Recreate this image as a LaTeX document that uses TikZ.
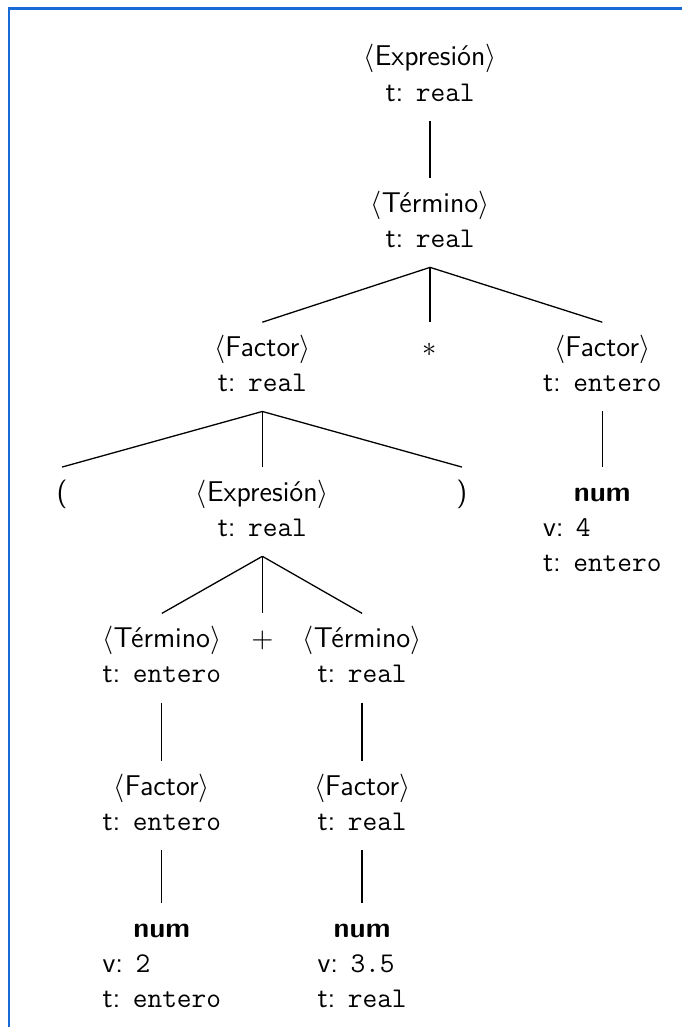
\documentclass[tikz,border=0pt]{standalone}
\usepackage{tikz}

\definecolor{framecol}{RGB}{25,105,215}
\newcommand{\nt}[2]{\strut$\langle$#1$\rangle$\\\strut t: \texttt{#2}}
\newcommand{\numleaf}[2]{\begin{tabular}{@{}l@{}}\multicolumn{1}{@{}c@{}}{\textbf{num}}\\ v: \texttt{#1}\\ t: \texttt{#2}\end{tabular}}

\begin{document}
\begin{tikzpicture}[line width=0.5pt,every node/.style={font=\fontsize{11}{13.6}\selectfont\sffamily,align=center,anchor=north}]
\useasboundingbox (0,0) rectangle (9.229,-13.897);
\draw[framecol,line width=0.8pt] (0.122,-13.897) -- (0.122,-0.115) -- (9.229,-0.115);
% nodes
\node (e0) at (5.82,-0.43) {\nt{Expresión}{real}};
\node (t0) at (5.82,-2.41) {\nt{Término}{real}};
\node (f1) at (3.55,-4.36) {\nt{Factor}{real}};
\node (star) at (5.82,-4.36) {\strut$*$};
\node (f2) at (8.15,-4.36) {\nt{Factor}{entero}};
\node (lp) at (0.84,-6.32) {\strut(};
\node (e1) at (3.55,-6.32) {\nt{Expresión}{real}};
\node (rp) at (6.25,-6.32) {\strut)};
\node (n3) at (8.15,-6.32) {\numleaf{4}{entero}};
\node (t1) at (2.19,-8.30) {\nt{Término}{entero}};
\node (plus) at (3.55,-8.30) {\strut$+$};
\node (t2) at (4.90,-8.30) {\nt{Término}{real}};
\node (f3) at (2.19,-10.30) {\nt{Factor}{entero}};
\node (f4) at (4.90,-10.30) {\nt{Factor}{real}};
\node (n1) at (2.19,-12.22) {\numleaf{2}{entero}};
\node (n2) at (4.90,-12.22) {\numleaf{3.5}{real}};
% edges
\draw (e0.south) -- (t0.north);
\draw (t0.south) -- (f1.north); \draw (t0.south) -- (star.north); \draw (t0.south) -- (f2.north);
\draw (f1.south) -- (lp.north); \draw (f1.south) -- (e1.north); \draw (f1.south) -- (rp.north);
\draw (f2.south) -- (n3.north);
\draw (e1.south) -- (t1.north); \draw (e1.south) -- (plus.north); \draw (e1.south) -- (t2.north);
\draw (t1.south) -- (f3.north); \draw (t2.south) -- (f4.north);
\draw (f3.south) -- (n1.north); \draw (f4.south) -- (n2.north);
\end{tikzpicture}
\end{document}
